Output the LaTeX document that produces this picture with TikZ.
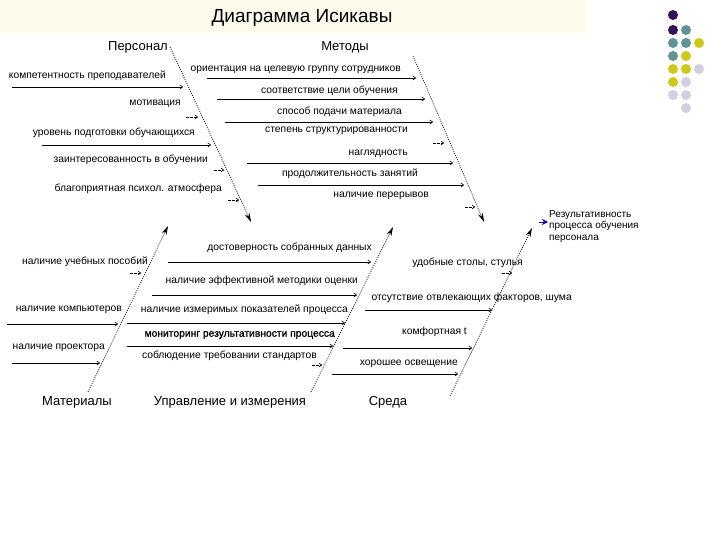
\documentclass[tikz,border=0pt]{standalone}
\usepackage{fontspec}
\setmainfont{Liberation Sans}
\usetikzlibrary{arrows.meta}

\definecolor{band}{RGB}{254,251,237}
\definecolor{dotpurple}{RGB}{50,18,88}
\definecolor{dotteal}{RGB}{98,148,150}
\definecolor{dotyellow}{RGB}{204,200,28}
\definecolor{dotlav}{RGB}{208,208,226}

\tikzset{
  bone/.style={dash pattern=on 1pt off 1.2pt, line width=0.7pt, -{Stealth[length=9pt,width=5pt]}},
  cause/.style={line width=0.6pt, -{To[length=3.5pt,width=4.5pt]}},
  stub/.style={dash pattern=on 2.5pt off 1.5pt, line width=0.6pt, -{To[length=3pt,width=4pt]}},
  causetext/.style={font=\fontsize{10.3}{12}\selectfont, inner sep=0pt, anchor=east},
  cattext/.style={font=\fontsize{13}{15}\selectfont, inner sep=0pt},
}

\begin{document}
\begin{tikzpicture}[x=1pt, y=-1pt]
    \useasboundingbox (0,0) rectangle (720,540);

    % Title band and title
    \fill[band] (0,0) rectangle (586,33);
    \node[font=\fontsize{19}{22}\selectfont] (title) at (302,18) {Диаграмма Исикавы};

    % Decorative dots
    \fill[dotpurple] (673,15) circle (5);
    \fill[dotpurple] (673,30) circle (5); \fill[dotteal] (686,30) circle (5);
    \fill[dotteal] (673,43) circle (5); \fill[dotteal] (686,43) circle (5); \fill[dotyellow] (699,43) circle (5);
    \fill[dotteal] (673,56) circle (5); \fill[dotyellow] (686,56) circle (5);
    \fill[dotyellow] (673,69) circle (5); \fill[dotyellow] (686,69) circle (5); \fill[dotlav] (699,69) circle (5);
    \fill[dotyellow] (673,82) circle (5); \fill[dotlav] (686,82) circle (5);
    \fill[dotlav] (673,95) circle (5); \fill[dotlav] (686,95) circle (5);
    \fill[dotlav] (686,108) circle (5);

    % Category labels
    \node[cattext] (pers) at (138,47) {Персонал};
    \node[cattext] (meth) at (345,47) {Методы};
    \node[cattext] (mat) at (77,402) {Материалы};
    \node[cattext] (upr) at (230,402) {Управление и измерения};
    \node[cattext] (env) at (388,402) {Среда};

    % Bones
    \coordinate (persA) at (170,47);  \coordinate (persB) at (251,222);
    \coordinate (methA) at (413,56);  \coordinate (methB) at (484,222);
    \coordinate (matA) at (88,392);   \coordinate (matB) at (168,226);
    \coordinate (uprA) at (311,392);  \coordinate (uprB) at (393,227);
    \coordinate (envA) at (450,396);  \coordinate (envB) at (532,228);
    \draw[bone] (persA) -- (persB);
    \draw[bone] (methA) -- (methB);
    \draw[bone] (matA) -- (matB);
    \draw[bone] (uprA) -- (uprB);
    \draw[bone] (envA) -- (envB);

    % Effect
    \node[font=\fontsize{10}{11.5}\selectfont, align=left, anchor=north west, inner sep=0pt] (res) at (549,210)
        {Результативность\\процесса обучения\\персонала};
    \coordinate (resA) at (539,222);
    \draw[-{Stealth[length=6pt,width=6pt]}, blue!75!black, line width=0.8pt] (resA) -- ([xshift=-1pt]res.west |- resA);

    % Personnel causes
    \node[causetext] (p1) at (166,76) {компетентность преподавателей};
    \node[causetext] (p2) at (181,104) {мотивация};
    \node[causetext] (p3) at (195,133) {уровень подготовки обучающихся};
    \node[causetext] (p4) at (208,160) {заинтересованность в обучении};
    \node[causetext] (p5) at (222,189) {благоприятная психол. атмосфера};
    \coordinate (p1a) at (12,87);   \coordinate (p1b) at (183,87);
    \coordinate (p2a) at (186,117); \coordinate (p2b) at (198,117);
    \coordinate (p3a) at (42,145);  \coordinate (p3b) at (211,145);
    \coordinate (p4a) at (214,170); \coordinate (p4b) at (224,170);
    \coordinate (p5a) at (228,200); \coordinate (p5b) at (239,200);
    \draw[cause] (p1a) -- (p1b);
    \draw[stub] (p2a) -- (p2b);
    \draw[cause] (p3a) -- (p3b);
    \draw[stub] (p4a) -- (p4b);
    \draw[stub] (p5a) -- (p5b);

    % Method causes
    \node[causetext] (m1) at (401,70) {ориентация на целевую группу сотрудников};
    \node[causetext] (m2) at (398,91) {соответствие цели обучения};
    \node[causetext] (m3) at (402,112) {способ подачи материала};
    \node[causetext] (m4) at (408,131) {степень структурированности};
    \node[causetext] (m5) at (408,154) {наглядность};
    \node[causetext] (m6) at (418,174) {продолжительность занятий};
    \node[causetext] (m7) at (429,196) {наличие перерывов};
    \coordinate (m1a) at (207,78);  \coordinate (m1b) at (416,78);
    \coordinate (m2a) at (217,99);  \coordinate (m2b) at (425,99);
    \coordinate (m3a) at (225,122); \coordinate (m3b) at (433,122);
    \coordinate (m4a) at (433,143); \coordinate (m4b) at (444,143);
    \coordinate (m5a) at (247,163); \coordinate (m5b) at (453,163);
    \coordinate (m6a) at (258,185); \coordinate (m6b) at (464,185);
    \coordinate (m7a) at (465,207); \coordinate (m7b) at (475,207);
    \draw[cause] (m1a) -- (m1b);
    \draw[cause] (m2a) -- (m2b);
    \draw[cause] (m3a) -- (m3b);
    \draw[stub] (m4a) -- (m4b);
    \draw[cause] (m5a) -- (m5b);
    \draw[cause] (m6a) -- (m6b);
    \draw[stub] (m7a) -- (m7b);

    % Material causes
    \node[causetext] (t1) at (148,262) {наличие учебных пособий};
    \node[causetext] (t2) at (122,310) {наличие компьютеров};
    \node[causetext] (t3) at (105,348) {наличие проектора};
    \coordinate (t1a) at (130,273); \coordinate (t1b) at (141,273);
    \coordinate (t2a) at (7,324);   \coordinate (t2b) at (118,324);
    \coordinate (t3a) at (12,363);  \coordinate (t3b) at (100,363);
    \draw[stub] (t1a) -- (t1b);
    \draw[cause] (t2a) -- (t2b);
    \draw[cause] (t3a) -- (t3b);

    % Management and measurement causes
    \node[causetext] (u1) at (372,248) {достоверность собранных данных};
    \node[causetext] (u2) at (358,281) {наличие эффективной методики оценки};
    \node[causetext] (u3) at (348,310) {наличие измеримых показателей процесса};
    \node[causetext, font=\fontsize{10.3}{12}\selectfont\addfontfeatures{FakeBold=1.2}] (u4) at (335,335) {мониторинг  результативности процесса};
    \node[causetext] (u5) at (317,356) {соблюдение требовании стандартов};
    \coordinate (u1a) at (168,262); \coordinate (u1b) at (371,262);
    \coordinate (u2a) at (152,295); \coordinate (u2b) at (357,295);
    \coordinate (u3a) at (127,323); \coordinate (u3b) at (345,323);
    \coordinate (u4a) at (127,346); \coordinate (u4b) at (333,346);
    \coordinate (u5a) at (312,365); \coordinate (u5b) at (322,365);
    \draw[cause] (u1a) -- (u1b);
    \draw[cause] (u2a) -- (u2b);
    \draw[cause] (u3a) -- (u3b);
    \draw[cause] (u4a) -- (u4b);
    \draw[stub] (u5a) -- (u5b);

    % Environment causes
    \node[causetext] (e1) at (523,263) {удобные столы, стулья};
    \node[causetext] (e2) at (572,298) {отсутствие отвлекающих факторов, шума};
    \node[causetext] (e3) at (467,332) {комфортная t};
    \node[causetext] (e4) at (458,364) {хорошее освещение};
    \coordinate (e1a) at (502,273); \coordinate (e1b) at (512,273);
    \coordinate (e2a) at (365,310); \coordinate (e2b) at (492,310);
    \coordinate (e3a) at (343,348); \coordinate (e3b) at (472,348);
    \coordinate (e4a) at (332,374); \coordinate (e4b) at (458,374);
    \draw[stub] (e1a) -- (e1b);
    \draw[cause] (e2a) -- (e2b);
    \draw[cause] (e3a) -- (e3b);
    \draw[cause] (e4a) -- (e4b);
\end{tikzpicture}
\end{document}
